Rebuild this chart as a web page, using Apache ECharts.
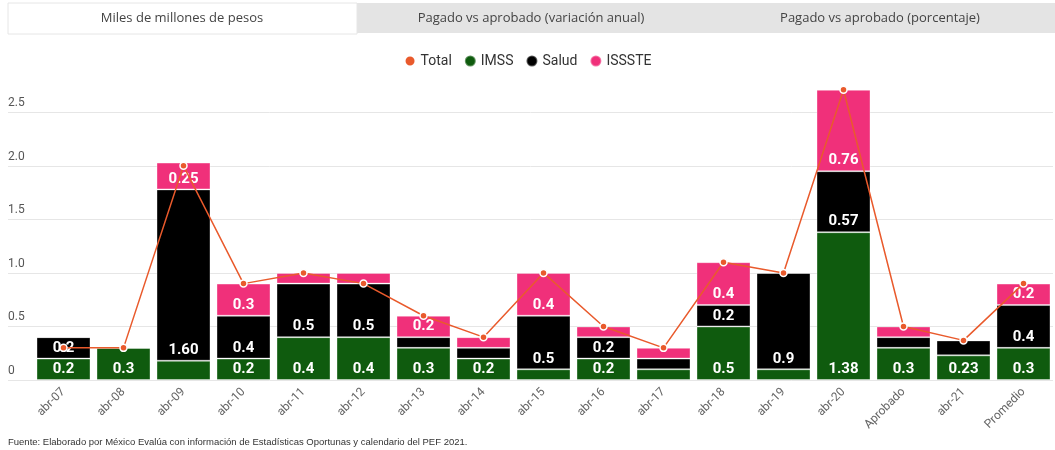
<!DOCTYPE html>
<html>
<head>
<meta charset="utf-8">
<script src="https://cdn.jsdelivr.net/npm/echarts@6/dist/echarts.min.js"></script>
<style>
  html, body { margin: 0; padding: 0; background: #fff; }
  #chart { width: 1055px; height: 450px; }
</style>
</head>
<body>
<div id="chart"></div>
<script>
var categories = ['abr-07', 'abr-08', 'abr-09', 'abr-10', 'abr-11', 'abr-12', 'abr-13', 'abr-14', 'abr-15',
  'abr-16', 'abr-17', 'abr-18', 'abr-19', 'abr-20', 'Aprobado', 'abr-21', 'Promedio'];

var imss   = [0.2, 0.3, 0.18, 0.2, 0.4, 0.4, 0.3, 0.2, 0.1, 0.2, 0.1, 0.5, 0.1, 1.38, 0.3, 0.23, 0.3];
var salud  = [0.2, 0,   1.60, 0.4, 0.5, 0.5, 0.1, 0.1, 0.5, 0.2, 0.1, 0.2, 0.9, 0.57, 0.1, 0.14, 0.4];
var issste = [0,   0,   0.25, 0.3, 0.1, 0.1, 0.2, 0.1, 0.4, 0.1, 0.1, 0.4, 0,   0.76, 0.1, 0,    0.2];
var total  = [0.3, 0.3, 2.0,  0.9, 1.0, 0.9, 0.6, 0.4, 1.0, 0.5, 0.3, 1.1, 1.0, 2.71, 0.5, 0.37, 0.9];

// etiquetas que se ven dentro de cada segmento ('' = sin etiqueta)
var imssLabels   = ['0.2', '0.3', '', '0.2', '0.4', '0.4', '0.3', '0.2', '', '0.2', '', '0.5', '', '1.38', '0.3', '0.23', '0.3'];
var saludLabels  = ['0.2', '', '1.60', '0.4', '0.5', '0.5', '', '', '0.5', '0.2', '', '0.2', '0.9', '0.57', '', '', '0.4'];
var issteLabels  = ['', '', '0.25', '0.3', '', '', '0.2', '', '0.4', '', '', '0.4', '', '0.76', '', '', '0.2'];

var yTicks = ['0', '0.5', '1.0', '1.5', '2.0', '2.5'];

var tabs = ['Miles de millones de pesos', 'Pagado vs aprobado (variación anual)', 'Pagado vs aprobado (porcentaje)'];
var fuente = 'Fuente: Elaborado por México Evalúa con información de Estadísticas Oportunas y calendario del PEF 2021.';

var FONT = 'Roboto, "Noto Sans", sans-serif';
var myChart = echarts.init(document.getElementById('chart'));

function barLabel(labels) {
  return {
    show: true,
    position: 'insideBottom',
    distance: 3,
    color: '#fff',
    fontWeight: 'bold',
    fontSize: 15,
    fontFamily: FONT,
    formatter: function (p) { return labels[p.dataIndex]; }
  };
}

var option = {
  animation: false,
  textStyle: { fontFamily: FONT },
  graphic: [
    // pestañas
    { type: 'rect', shape: { x: 8, y: 3, width: 1047, height: 30 }, style: { fill: '#e4e4e4' }, silent: true },
    { type: 'rect', shape: { x: 8, y: 3, width: 349, height: 31 }, style: { fill: '#fff', stroke: '#e6e6e6', lineWidth: 1 }, silent: true },
    { type: 'text', x: 182, y: 18, style: { text: tabs[0], fill: '#444', font: '13px "Open Sans", sans-serif', align: 'center', verticalAlign: 'middle' } },
    { type: 'text', x: 531, y: 18, style: { text: tabs[1], fill: '#444', font: '13px "Open Sans", sans-serif', align: 'center', verticalAlign: 'middle' } },
    { type: 'text', x: 880, y: 18, style: { text: tabs[2], fill: '#444', font: '13px "Open Sans", sans-serif', align: 'center', verticalAlign: 'middle' } },
    { type: 'text', x: 8, y: 442, style: { text: fuente, fill: '#333', font: '9.5px Arial, sans-serif', verticalAlign: 'middle' } }
  ],
  legend: {
    top: 49,
    left: 'center',
    icon: 'circle',
    itemWidth: 11,
    itemHeight: 11,
    itemGap: 12,
    textStyle: { color: '#333', fontSize: 14, fontFamily: FONT },
    data: ['Total', 'IMSS', 'Salud', 'ISSSTE']
  },
  grid: [
    { left: 8, right: 2, top: 85.5, bottom: 70 },
    { left: 33.5, right: 1.5, top: 85.5, bottom: 70 }
  ],
  xAxis: [
    { gridIndex: 0, type: 'value', show: false, min: 0, max: 1 },
    {
      gridIndex: 1,
      type: 'category',
      data: categories,
      axisLine: { show: false },
      axisTick: { show: false },
      axisLabel: { rotate: 45, margin: 10, color: '#666', fontSize: 12, fontFamily: FONT }
    }
  ],
  yAxis: [
    {
      gridIndex: 0,
      type: 'value',
      min: 0,
      max: 2.75,
      interval: 0.5,
      axisLine: { show: false },
      axisTick: { show: false },
      splitLine: { show: true, showMaxLine: false, lineStyle: { color: '#e6e6e6', width: 1 } },
      axisLabel: {
        inside: true,
        margin: 0,
        showMaxLabel: false,
        verticalAlign: 'bottom',
        padding: [0, 0, 3, 0],
        color: '#555',
        fontSize: 12,
        fontFamily: FONT,
        formatter: function (v) { return yTicks[Math.round(v / 0.5)] || ''; }
      }
    },
    { gridIndex: 1, type: 'value', min: 0, max: 2.75, show: false, splitLine: { show: false } }
  ],
  series: [
    {
      name: 'IMSS', type: 'bar', stack: 'gasto', xAxisIndex: 1, yAxisIndex: 1,
      barCategoryGap: '10%',
      itemStyle: { color: '#0f5b0e', borderColor: 'rgba(255,255,255,0.35)', borderWidth: 1 },
      label: barLabel(imssLabels),
      data: imss
    },
    {
      name: 'Salud', type: 'bar', stack: 'gasto', xAxisIndex: 1, yAxisIndex: 1,
      barCategoryGap: '10%',
      itemStyle: { color: '#000000', borderColor: 'rgba(255,255,255,0.35)', borderWidth: 1 },
      label: barLabel(saludLabels),
      data: salud
    },
    {
      name: 'ISSSTE', type: 'bar', stack: 'gasto', xAxisIndex: 1, yAxisIndex: 1,
      barCategoryGap: '10%',
      itemStyle: { color: '#f0307a', borderColor: 'rgba(255,255,255,0.35)', borderWidth: 1 },
      label: barLabel(issteLabels),
      data: issste
    },
    {
      name: 'Total', type: 'line', xAxisIndex: 1, yAxisIndex: 1,
      z: 5,
      symbol: 'circle',
      symbolSize: 7,
      color: '#e95a2c',
      itemStyle: { color: '#e95a2c', borderColor: '#fff', borderWidth: 1.5 },
      lineStyle: { color: '#e95a2c', width: 1.5 },
      data: total
    }
  ]
};

myChart.setOption(option);
</script>
</body>
</html>
